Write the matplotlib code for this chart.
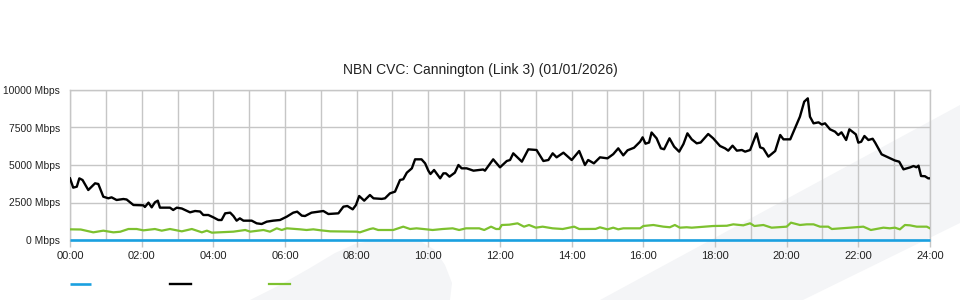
import matplotlib
matplotlib.use("Agg")
import matplotlib.pyplot as plt
from matplotlib.patches import Polygon

plt.rcParams['font.family'] = ['Liberation Sans', 'DejaVu Sans']

title = "NBN CVC: Cannington (Link 3) (01/01/2026)"
y_ticks = [0, 2500, 5000, 7500, 10000]
y_tick_labels = ["0 Mbps", "2500 Mbps", "5000 Mbps", "7500 Mbps", "10000 Mbps"]
x_ticks = list(range(0, 25, 2))
x_tick_labels = ["%02d:00" % h for h in x_ticks]

# time in hours
black_t = [0.00, 0.09, 0.19, 0.26, 0.35, 0.51, 0.70, 0.79, 0.93, 1.07, 1.16, 1.30, 1.49, 1.58, 1.77,
           2.05, 2.09, 2.19, 2.28, 2.37, 2.45, 2.51, 2.79, 2.88, 2.98, 3.12, 3.35, 3.49, 3.63, 3.72,
           3.86, 4.00, 4.14, 4.23, 4.33, 4.47, 4.56, 4.65, 4.74, 4.84, 5.07, 5.21, 5.35, 5.49, 5.67,
           5.86, 6.05, 6.23, 6.34, 6.47, 6.56, 6.74, 6.93, 7.07, 7.21, 7.49, 7.63, 7.74, 7.89, 7.98,
           8.07, 8.21, 8.37, 8.47, 8.70, 8.79, 8.93, 9.07, 9.21, 9.30, 9.40, 9.54, 9.63, 9.81, 9.91,
           10.00, 10.06, 10.16, 10.33, 10.42, 10.49, 10.59, 10.74, 10.84, 10.93, 11.07, 11.26, 11.53,
           11.58, 11.81, 12.00, 12.19, 12.28, 12.37, 12.61, 12.79, 13.02, 13.21, 13.35, 13.47, 13.58,
           13.77, 14.00, 14.21, 14.37, 14.46, 14.62, 14.79, 15.00, 15.16, 15.30, 15.44, 15.56, 15.74,
           15.91, 15.98, 16.06, 16.16, 16.23, 16.37, 16.49, 16.58, 16.73, 16.86, 17.00, 17.12, 17.23,
           17.35, 17.49, 17.60, 17.81, 17.95, 18.14, 18.28, 18.37, 18.49, 18.61, 18.75, 18.84, 18.98,
           19.16, 19.26, 19.35, 19.49, 19.68, 19.82, 19.91, 20.10, 20.37, 20.49, 20.59, 20.65, 20.75,
           20.89, 20.98, 21.07, 21.21, 21.35, 21.44, 21.53, 21.66, 21.75, 21.93, 22.00, 22.08, 22.17,
           22.28, 22.40, 22.47, 22.65, 22.79, 22.93, 23.02, 23.14, 23.26, 23.45, 23.54, 23.62, 23.68,
           23.75, 23.86, 23.95, 24.00]
black_v = [4110, 3490, 3555, 4110, 4000, 3333, 3780, 3733, 2887, 2780, 2844, 2667, 2733, 2700, 2333,
           2311, 2200, 2489, 2178, 2511, 2622, 2156, 2156, 2000, 2156, 2100, 1844, 1933, 1900, 1667,
           1667, 1511, 1333, 1333, 1778, 1822, 1600, 1289, 1444, 1289, 1289, 1111, 1067, 1222, 1289,
           1333, 1556, 1822, 1889, 1622, 1600, 1822, 1889, 1933, 1733, 1778, 2222, 2267, 2044, 2333,
           2933, 2622, 3000, 2778, 2740, 2778, 3111, 3222, 4000, 4050, 4489, 4778, 5378, 5378, 5111,
           4622, 4400, 4667, 4111, 4444, 4444, 4222, 4489, 5000, 4778, 4778, 4622, 4700,
           4622, 5378, 4844, 5267, 5333, 5778, 5222, 6044, 6000, 5267, 5333, 5778, 5511,
           5822, 5333, 5933, 5000, 5333, 5111, 5511, 5444, 5722, 6111, 5644, 5980, 6150,
           6556, 6844, 6420, 6500, 7167, 6778, 6111, 6050, 6778, 6222, 5889, 6400, 7111,
           6711, 6444, 6500, 7067, 6778, 6267, 6111, 5956, 6289, 5956, 6000, 5889, 6000,
           7111, 6178, 6100, 5556, 5933, 7000, 6711, 6711, 8222, 9222, 9444, 8222, 7778,
           7844, 7700, 7778, 7378, 7222, 7000, 7178, 6667, 7378, 7044, 6489, 6550, 6933,
           6667, 6750, 6489, 5711, 5556, 5400, 5300, 5222, 4711, 4844, 4933, 4850, 4956,
           4267, 4250, 4111, 4111]

green_t = [0.0, 0.3, 0.65, 0.93, 1.21, 1.4, 1.63, 1.86, 2.05, 2.37, 2.56, 2.79, 3.12, 3.4, 3.68, 3.82,
           3.96, 4.56, 4.89, 5.03, 5.4, 5.58, 5.77, 5.91, 6.05, 6.42, 6.6, 6.79, 6.98, 7.26, 8.0, 8.09,
           8.37, 8.46, 8.6, 9.02, 9.3, 9.49, 9.67, 9.86, 10.12, 10.4, 10.68, 10.86, 11.05, 11.42, 11.56,
           11.75, 11.89, 11.98, 12.05, 12.26, 12.49, 12.67, 12.81, 13.0, 13.19, 13.47, 13.75, 14.07,
           14.21, 14.67, 14.79, 15.0, 15.16, 15.3, 15.44, 15.91, 16.0, 16.28, 16.56, 16.74, 16.88,
           17.02, 17.21, 17.35, 17.95, 18.33, 18.51, 18.79, 18.98, 19.1, 19.35, 19.58, 20.0, 20.12,
           20.37, 20.56, 20.75, 20.93, 21.16, 21.26, 21.77, 22.14, 22.35, 22.7, 22.88, 23.02, 23.16,
           23.3, 23.44, 23.63, 23.91, 24.0]
green_v = [711, 700, 511, 622, 511, 550, 733, 733, 644, 733, 622, 733, 578, 733, 511, 622,
           489, 556, 667, 556, 667, 556, 778, 667, 778, 711, 667, 711, 650, 578, 556, 511,
           733, 778, 667, 667, 889, 733, 778, 733, 667, 733, 778, 667, 778, 778, 667,
           889, 733, 733, 1000, 1022, 1111, 889, 1000, 822, 889, 778, 733, 889,
           733, 740, 844, 711, 822, 711, 778, 778, 933, 1000, 889, 850, 1000,
           822, 850, 822, 933, 950, 1044, 978, 1111, 933, 1000, 822, 889, 1156,
           1000, 1044, 1044, 889, 889, 733, 822, 889, 667, 822, 780, 822, 711,
           1000, 978, 889, 889, 778]

blue_t = [0.0, 24.0]
blue_v = [0, 0]

BLUE = "#1aa0e0"
BLACK = "#000000"
GREEN = "#7dc12f"
GRID = "#c6c6c6"
BG = "#f4f5f7"
TXT = "#222222"

fig = plt.figure(figsize=(9.6, 3.0), dpi=100)
W, H = 960.0, 300.0

def px(pts):
    return [(x / W, 1 - y / H) for x, y in pts]

# decorative background shapes
band = Polygon(px([(960, 105), (600, 300), (803, 300), (960, 223)]), closed=True,
               facecolor=BG, edgecolor='none', transform=fig.transFigure, zorder=-10)
blob = Polygon(px([(250, 300), (280, 285), (310, 268), (335, 253), (355, 244), (375, 240),
                   (400, 239), (420, 241), (435, 250), (445, 265), (452, 283), (450, 300)]),
               closed=True, facecolor=BG, edgecolor='none', transform=fig.transFigure, zorder=-10)
fig.add_artist(band)
fig.add_artist(blob)

ax = fig.add_axes([70 / W, 60 / H, 860 / W, 150 / H])
ax.set_zorder(1)
ax.set_facecolor('none')
ax.set_xlim(0, 24)
ax.set_ylim(0, 10000)

ax.set_xticks(x_ticks)
ax.set_xticklabels(x_tick_labels)
ax.set_xticks(range(0, 25), minor=True)
ax.set_yticks(y_ticks)
ax.set_yticklabels(y_tick_labels)
ax.grid(True, which='both', color=GRID, linewidth=1.0)
ax.tick_params(axis='x', which='major', length=5, width=1.0, color=GRID, labelsize=8,
               labelcolor=TXT, pad=3)
ax.tick_params(axis='x', which='minor', length=0)
ax.tick_params(axis='y', length=0, labelsize=7.4, labelcolor=TXT, pad=7)
for s in ['left', 'right', 'top']:
    ax.spines[s].set_color(GRID)
    ax.spines[s].set_linewidth(1.0)
ax.spines['bottom'].set_visible(False)
ax.set_axisbelow(True)

l_blue, = ax.plot(blue_t, blue_v, color=BLUE, lw=1.9, clip_on=False, zorder=3,
                  solid_capstyle='butt')
l_black, = ax.plot(black_t, black_v, color=BLACK, lw=1.7, zorder=4)
l_green, = ax.plot(green_t, green_v, color=GREEN, lw=1.6, zorder=4)

fig.text(0.5, 1 - 70 / H, title, ha='center', va='center', fontsize=10, color=TXT)

leg = fig.legend([l_blue, l_black, l_green], ['', '', ''], ncol=3, loc='center left',
                 bbox_to_anchor=(70 / W, 15 / H), frameon=False, borderpad=0, borderaxespad=0,
                 handlelength=1.5, handletextpad=0, columnspacing=5.68, fontsize=10)

fig.savefig("out.png", dpi=100)
